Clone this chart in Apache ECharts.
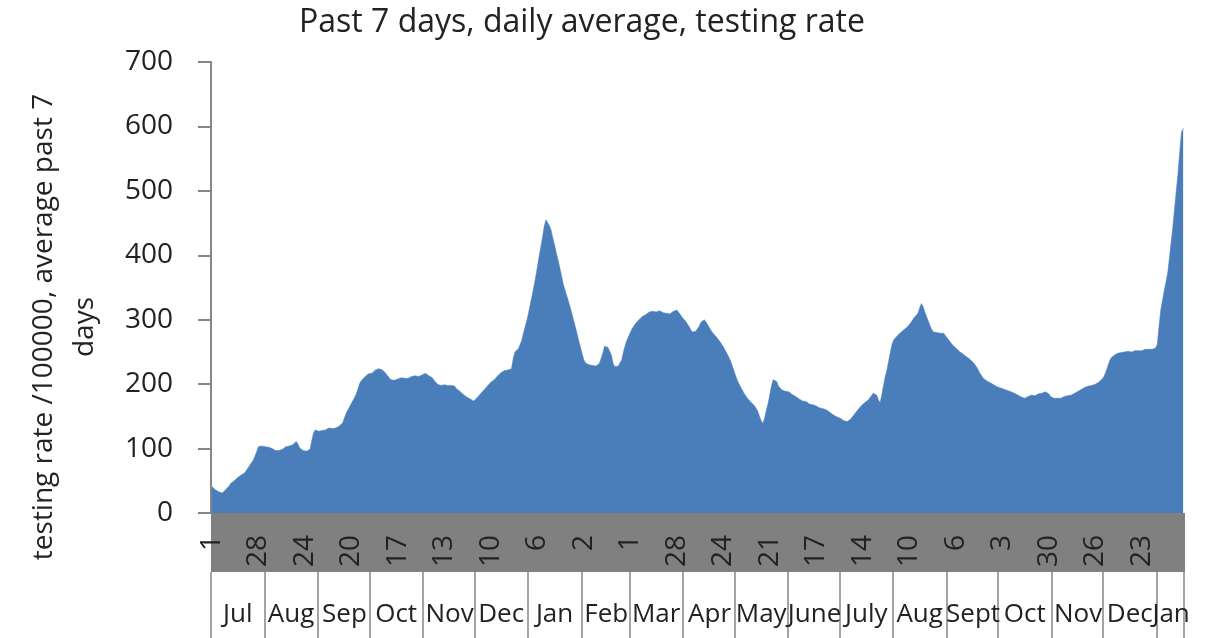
<!DOCTYPE html>
<html>
<head>
<meta charset="utf-8">
<script src="https://cdn.jsdelivr.net/npm/echarts@6/dist/echarts.min.js"></script>
<style>
  html, body { margin: 0; padding: 0; background: #fff; }
  #chart { width: 1216px; height: 638px; }
</style>
</head>
<body>
<div id="chart"></div>
<script>
// ===== 数据 =====

// 月份标签（第二年用 June / July / Sept，与原图一致）
const monthNames = ['Jul', 'Aug', 'Sep', 'Oct', 'Nov', 'Dec', 'Jan', 'Feb', 'Mar', 'Apr', 'May', 'June',
                    'July', 'Aug', 'Sept', 'Oct', 'Nov', 'Dec', 'Jan'];
// 每个月的天数（2020-07-01 ~ 2022-01-16）
const monthDays = [31, 31, 30, 31, 30, 31, 31, 28, 31, 30, 31, 30, 31, 31, 30, 31, 30, 31, 16];

// testing rate /100000, average past 7 days —— 每日一个值，按月分行
const testingRate = [
  // Jul 2020
  41, 38, 36, 34, 33, 32, 31, 33, 36, 39, 42, 46, 48, 50, 52, 55, 57, 59, 60, 62, 66, 70, 74, 78, 82, 88, 95, 103, 101, 104, 105,
  // Aug
  103, 105, 102, 104, 100, 98, 97, 95, 97, 100, 99, 101, 103, 100, 104, 105, 106, 108, 111, 107, 101, 98, 97, 98, 96, 97, 99, 112, 124, 129, 128,
  // Sep
  127, 130, 128, 131, 129, 129, 132, 130, 131, 133, 132, 134, 135, 134, 140, 148, 155, 160, 165, 170, 175, 180, 186, 194, 202, 206, 208, 212, 214, 216,
  // Oct
  214, 217, 219, 222, 221, 224, 225, 222, 219, 217, 213, 210, 207, 208, 206, 209, 208, 207, 210, 208, 209, 211, 209, 210, 212, 210, 213, 214, 212, 215, 214,
  // Nov
  216, 217, 215, 213, 212, 210, 206, 203, 200, 199, 198, 200, 199, 197, 198, 199, 198, 196, 197, 193, 191, 189, 186, 184, 182, 180, 178, 177, 175, 174,
  // Dec
  176, 179, 182, 185, 188, 191, 194, 197, 200, 203, 205, 207, 210, 213, 216, 218, 219, 221, 220, 222, 221, 224, 240, 250, 252, 255, 258, 268, 280, 290, 300,
  // Jan 2021
  312, 325, 338, 351, 366, 382, 398, 413, 428, 445, 455, 452, 446, 439, 427, 416, 404, 393, 381, 369, 356, 347, 338, 329, 320, 310, 300, 290, 279, 268, 258,
  // Feb
  247, 238, 233, 231, 230, 231, 229, 230, 228, 231, 232, 235, 248, 259, 261, 257, 258, 245, 232, 227, 226, 228, 230, 238, 250, 260, 268, 274,
  // Mar
  280, 286, 290, 294, 297, 300, 303, 305, 307, 308, 310, 312, 311, 313, 314, 312, 315, 314, 313, 311, 312, 310, 308, 309, 311, 313, 314, 315, 312, 308, 304,
  // Apr
  301, 298, 296, 290, 285, 281, 279, 282, 285, 290, 296, 299, 300, 296, 292, 287, 283, 279, 276, 273, 270, 266, 262, 258, 253, 248, 243, 237, 230, 222,
  // May
  214, 207, 201, 196, 191, 186, 182, 178, 175, 172, 169, 167, 165, 158, 150, 143, 139, 148, 160, 170, 184, 198, 207, 210, 204, 197, 194, 191, 192, 189, 187,
  // June
  188, 186, 184, 182, 181, 178, 177, 175, 174, 172, 173, 170, 169, 168, 168, 167, 166, 165, 163, 163, 162, 160, 160, 158, 156, 154, 152, 151, 149, 148,
  // July
  147, 145, 143, 142, 142, 143, 146, 149, 153, 156, 160, 163, 166, 168, 171, 173, 175, 178, 182, 186, 188, 183, 176, 171, 183, 198, 212, 222, 236, 250, 262,
  // Aug
  269, 272, 275, 278, 280, 283, 285, 287, 289, 292, 296, 300, 304, 307, 310, 318, 325, 320, 312, 305, 298, 291, 285, 281, 283, 280, 282, 279, 281, 279, 275,
  // Sept
  272, 268, 265, 261, 258, 256, 254, 251, 249, 247, 245, 243, 241, 239, 236, 234, 232, 227, 222, 217, 213, 209, 207, 205, 203, 202, 200, 199, 197, 196,
  // Oct
  195, 194, 193, 192, 191, 190, 189, 188, 187, 186, 184, 183, 181, 180, 178, 178, 179, 181, 182, 183, 183, 182, 184, 185, 184, 186, 187, 188, 188, 185, 181,
  // Nov
  179, 178, 177, 178, 179, 178, 180, 181, 180, 182, 183, 183, 185, 186, 188, 189, 191, 192, 194, 195, 196, 197, 196, 198, 199, 200, 201, 203, 205, 208,
  // Dec
  212, 218, 226, 234, 240, 243, 245, 247, 248, 247, 249, 248, 250, 249, 251, 250, 250, 251, 252, 251, 252, 253, 252, 253, 254, 253, 254, 255, 254, 255, 256,
  // Jan 2022
  262, 290, 315, 330, 345, 358, 372, 395, 420, 444, 472, 500, 527, 560, 590, 597
];

const yTicks = [0, 100, 200, 300, 400, 500, 600, 700];
const dayLabelStep = 27; // 原图每 27 天一个日期标签

// ===== 由月份表生成每日类目 =====
const categories = [];
const dayOfMonth = [];
const monthOfDay = [];
monthDays.forEach((n, m) => {
  for (let d = 1; d <= n; d++) {
    categories.push(m + '-' + d);
    dayOfMonth.push(d);
    monthOfDay.push(m);
  }
});
// 每个月中间那一天放月份名
const monthMidIndex = {};
let start = 0;
monthDays.forEach((n, m) => {
  monthMidIndex[start + Math.floor(n / 2)] = m;
  start += n;
});

// ===== 布局 =====
const FONT = '"Open Sans"';
const TEXT = '#222';
const AXIS_GREY = '#868686';
const BAND_GREY = '#808080';
const AREA_BLUE = '#4a7ebb';

const gridLeft = 211, gridRight = 32, gridTop = 62, gridBottom = 125;
const bandHeight = 59;
const W = 1216, H = 638;

// 月份名放在两条轴上（奇偶月分开），原图里相邻月名会互相压住，这样 ECharts 不会把它们隐藏
function monthAxis(parity, withTicks) {
  return {
    type: 'category',
    data: categories,
    position: 'bottom',
    offset: bandHeight,
    boundaryGap: true,
    axisLine: { show: false },
    axisTick: {
      show: withTicks,
      length: 66,
      interval: (i) => dayOfMonth[i] === 1,
      lineStyle: { color: AXIS_GREY, width: 1.5 }
    },
    axisLabel: {
      margin: 30,
      fontFamily: FONT,
      fontSize: 26,
      color: TEXT,
      showMinLabel: true,
      showMaxLabel: true,
      interval: (i) => monthMidIndex[i] !== undefined && monthMidIndex[i] % 2 === parity,
      formatter: (v, i) => monthNames[monthOfDay[i]]
    }
  };
}

const chart = echarts.init(document.getElementById('chart'), null, { renderer: 'canvas' });

const option = {
  animation: false,
  backgroundColor: '#fff',
  title: {
    text: 'Past 7 days, daily average, testing rate',
    left: 577,
    top: 2,
    textAlign: 'center',
    textStyle: { fontFamily: FONT, fontSize: 32, fontWeight: 'normal', color: TEXT }
  },
  grid: { left: gridLeft, right: gridRight, top: gridTop, bottom: gridBottom },
  xAxis: [
    {
      // 日期（旋转的日数字，灰色底带）
      type: 'category',
      data: categories,
      boundaryGap: true,
      axisLine: { show: false },
      axisTick: { show: false },
      axisLabel: {
        rotate: 90,
        margin: 22,
        fontFamily: FONT,
        fontSize: 28,
        color: TEXT,
        interval: (i) => i % dayLabelStep === 0,
        formatter: (v, i) => String(dayOfMonth[i])
      }
    },
    monthAxis(0, true),
    monthAxis(1, false)
  ],
  yAxis: {
    type: 'value',
    min: yTicks[0],
    max: yTicks[yTicks.length - 1],
    interval: 100,
    axisLine: { show: true, lineStyle: { color: AXIS_GREY, width: 2 } },
    axisTick: { show: true, length: 13, lineStyle: { color: AXIS_GREY, width: 2 } },
    axisLabel: { margin: 38, fontFamily: FONT, fontSize: 28, color: TEXT },
    splitLine: { show: false }
  },
  series: [{
    type: 'line',
    xAxisIndex: 0,
    data: testingRate,
    symbol: 'none',
    lineStyle: { width: 0.5, color: AREA_BLUE },
    areaStyle: { color: AREA_BLUE, opacity: 1 },
    silent: true
  }],
  graphic: [
    {
      // 横轴灰色底带
      type: 'rect',
      z: -1,
      shape: { x: gridLeft, y: H - gridBottom, width: W - gridLeft - gridRight + 1, height: bandHeight },
      style: { fill: BAND_GREY }
    },
    {
      // 纵轴标题（两行，旋转）
      type: 'text',
      x: 65,
      y: 327,
      rotation: Math.PI / 2,
      style: {
        text: 'testing rate /100000, average past 7\ndays',
        fontFamily: FONT,
        fontSize: 28,
        lineHeight: 41,
        align: 'center',
        verticalAlign: 'middle',
        fill: TEXT
      }
    }
  ]
};

chart.setOption(option);
</script>
</body>
</html>
